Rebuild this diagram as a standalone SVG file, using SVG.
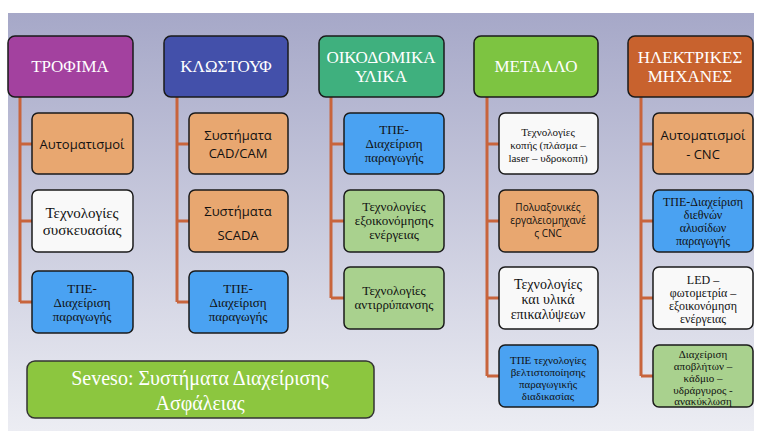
<svg xmlns="http://www.w3.org/2000/svg" width="766" height="437" viewBox="0 0 766 437">
<defs>
<linearGradient id="bg" x1="0" y1="0" x2="0" y2="1"><stop offset="0" stop-color="#a6a8c8"/><stop offset="1" stop-color="#ecedf3"/></linearGradient>
</defs>
<style>
.h rect,.c rect{stroke:#1a1a1a;stroke-width:1.5}
.h text{font-size:17px;fill:#fff;text-anchor:middle}
.c text{font-size:13px;fill:#111;text-anchor:middle}
.or{fill:#e8a770}.bl{fill:#4aa2f2}.gr{fill:#a9d18e}.wh{fill:#f9f9f9}
#conn path{stroke:#c8643c;stroke-width:3;fill:none}
</style>
<rect x="8" y="13" width="746" height="418" fill="url(#bg)"/>
<g id="conn">
<path d="M20 97V302M20 144H32M20 221H32M20 302H32"/>
<path d="M177 97V302M177 144H189M177 221H189M177 302H189"/>
<path d="M331 97V298M331 144H344M331 221H344M331 298H344"/>
<path d="M487 97V376M487 144H499M487 221H499M487 298H499M487 376H499"/>
<path d="M641 97V376M641 144H653M641 221H653M641 298H653M641 376H653"/>
</g>
<g class="h" font-family="'Liberation Serif', 'DejaVu Serif', serif">
<g id="h1"><rect x="8" y="36" width="125" height="61" rx="7" fill="#a3419f"/><text x="70" y="72">ΤΡΟΦΙΜΑ</text></g>
<g id="h2"><rect x="164" y="36" width="124" height="61" rx="7" fill="#4350aa"/><text x="226" y="72">ΚΛΩΣΤΟΥΦ</text></g>
<g id="h3"><rect x="319" y="36" width="125" height="61" rx="7" fill="#3fb07e"/><text x="381" y="63">ΟΙΚΟΔΟΜΙΚΑ</text><text x="381" y="82">ΥΛΙΚΑ</text></g>
<g id="h4"><rect x="474" y="36" width="124" height="61" rx="7" fill="#7dc441"/><text x="536" y="72">ΜΕΤΑΛΛΟ</text></g>
<g id="h5"><rect x="628" y="36" width="125" height="61" rx="7" fill="#c8622e"/><text x="690" y="63">ΗΛΕΚΤΡΙΚΕΣ</text><text x="690" y="82">ΜΗΧΑΝΕΣ</text></g>
</g>
<g class="c" font-family="'Liberation Serif', 'DejaVu Serif', serif">
<g id="c11" font-family="'Open Sans', sans-serif"><rect class="or" x="32" y="113" width="101" height="61" rx="6"/><text x="82" y="149">Αυτοματισμοί</text></g>
<g id="c12"><rect class="wh" x="32" y="190" width="101" height="62" rx="6"/><text x="82" y="218" style="font-size:15px">Τεχνολογίες</text><text x="82" y="235" style="font-size:15px">συσκευασίας</text></g>
<g id="c13"><rect class="bl" x="32" y="271" width="101" height="62" rx="6"/><text x="82" y="293">ΤΠΕ-</text><text x="82" y="307">Διαχείριση</text><text x="82" y="321">παραγωγής</text></g>
<g id="c21" font-family="'Open Sans', sans-serif"><rect class="or" x="189" y="113" width="99" height="61" rx="6"/><text x="238" y="140">Συστήματα</text><text x="238" y="158">CAD/CAM</text></g>
<g id="c22" font-family="'Open Sans', sans-serif"><rect class="or" x="189" y="190" width="99" height="62" rx="6"/><text x="238" y="216">Συστήματα</text><text x="238" y="240">SCADA</text></g>
<g id="c23"><rect class="bl" x="189" y="271" width="99" height="62" rx="6"/><text x="238" y="293">ΤΠΕ-</text><text x="238" y="307">Διαχείριση</text><text x="238" y="321">παραγωγής</text></g>
<g id="c31"><rect class="bl" x="344" y="113" width="100" height="61" rx="6"/><text x="394" y="134">ΤΠΕ-</text><text x="394" y="148">Διαχείριση</text><text x="394" y="162">παραγωγής</text></g>
<g id="c32"><rect class="gr" x="344" y="190" width="100" height="62" rx="6"/><text x="394" y="211">Τεχνολογίες</text><text x="394" y="225">εξοικονόμησης</text><text x="394" y="239">ενέργειας</text></g>
<g id="c33"><rect class="gr" x="344" y="267" width="100" height="62" rx="6"/><text x="394" y="295">Τεχνολογίες</text><text x="394" y="309">αντιρρύπανσης</text></g>
<g id="c41"><rect class="wh" x="499" y="113" width="99" height="61" rx="6"/><text x="548" y="136" style="font-size:11px">Τεχνολογίες</text><text x="548" y="149" style="font-size:11px">κοπής (πλάσμα –</text><text x="548" y="162" style="font-size:11px">laser – υδροκοπή)</text></g>
<g id="c42" font-family="'Open Sans', sans-serif"><rect class="or" x="499" y="190" width="99" height="62" rx="6"/><text x="548" y="211" style="font-size:10px">Πολυαξονικές</text><text x="548" y="224" style="font-size:10px">εργαλειομηχανέ</text><text x="548" y="237" style="font-size:10px">ς CNC</text></g>
<g id="c43"><rect class="wh" x="499" y="267" width="99" height="62" rx="6"/><text x="548" y="289" style="font-size:14px">Τεχνολογίες</text><text x="548" y="304" style="font-size:14px">και υλικά</text><text x="548" y="319" style="font-size:14px">επικαλύψεων</text></g>
<g id="c44"><rect class="bl" x="499" y="345" width="99" height="62" rx="6"/><text x="548" y="364" style="font-size:11px">ΤΠΕ τεχνολογίες</text><text x="548" y="376" style="font-size:11px">βελτιστοποίησης</text><text x="548" y="388" style="font-size:11px">παραγωγικής</text><text x="548" y="400" style="font-size:11px">διαδικασίας</text></g>
<g id="c51" font-family="'Open Sans', sans-serif"><rect class="or" x="653" y="113" width="100" height="61" rx="6"/><text x="703" y="140">Αυτοματισμοί</text><text x="703" y="159">- CNC</text></g>
<g id="c52"><rect class="bl" x="653" y="190" width="100" height="62" rx="6"/><text x="703" y="206" style="font-size:12px">ΤΠΕ-Διαχείριση</text><text x="703" y="219" style="font-size:12px">διεθνών</text><text x="703" y="232" style="font-size:12px">αλυσίδων</text><text x="703" y="245" style="font-size:12px">παραγωγής</text></g>
<g id="c53"><rect class="wh" x="653" y="267" width="100" height="62" rx="6"/><text x="703" y="284" style="font-size:12px">LED –</text><text x="703" y="297" style="font-size:12px">φωτομετρία –</text><text x="703" y="310" style="font-size:12px">εξοικονόμηση</text><text x="703" y="323" style="font-size:12px">ενέργειας</text></g>
<g id="c54"><rect class="gr" x="653" y="345" width="100" height="62" rx="6"/><text x="703" y="358" style="font-size:11px">Διαχείριση</text><text x="703" y="370" style="font-size:11px">αποβλήτων –</text><text x="703" y="382" style="font-size:11px">κάδμιο –</text><text x="703" y="394" style="font-size:11px">υδράργυρος -</text><text x="703" y="405" style="font-size:11px">ανακύκλωση</text></g>
</g>
<g id="seveso" font-family="'Liberation Serif', 'DejaVu Serif', serif"><rect x="27" y="361" width="347" height="57" rx="8" fill="#8cc63f" stroke="#333" stroke-width="1.5"/><text x="200" y="385" font-size="20" fill="#fff" text-anchor="middle">Seveso:  Συστήματα Διαχείρισης</text><text x="200" y="410" font-size="20" fill="#fff" text-anchor="middle">Ασφάλειας</text></g>
</svg>
